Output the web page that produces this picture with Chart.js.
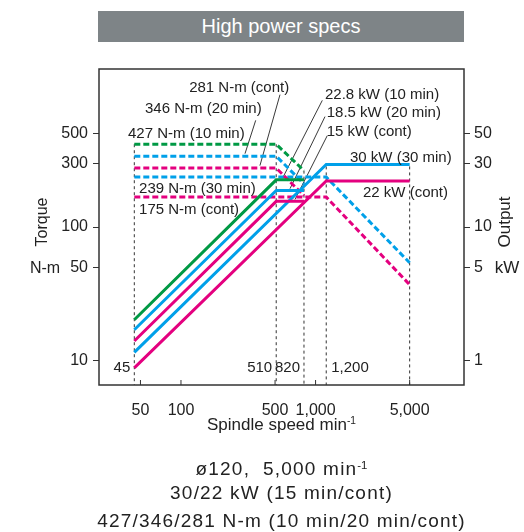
<!DOCTYPE html>
<html>
<head>
<meta charset="utf-8">
<script src="https://cdn.jsdelivr.net/npm/chart.js@4.4.0/dist/chart.umd.min.js"></script>
<style>
  body { margin: 0; background: #fff; font-family: "Liberation Sans", Arial, sans-serif; color: #222; }
  #wrap { position: relative; width: 524px; height: 532px; }
  canvas { position: absolute; left: 0; top: 0; }
  .title { position: absolute; left: 98px; top: 11px; width: 366px; height: 31px; line-height: 31px;
           background: #7e8487; color: #fff; font-size: 20px; text-align: center; }
  .cap { position: absolute; left: 0; width: 563px; text-align: center; font-size: 19px; letter-spacing: 1.2px; line-height: 28px; }
  .xt { position: absolute; left: 0; width: 563px; text-align: center; font-size: 17px; top: 410px; line-height: 22px; }
  sup { font-size: 0.6em; vertical-align: 0.55em; letter-spacing: 0; }
</style>
</head>
<body>
<div id="wrap">
  <canvas id="chart" width="524" height="532"></canvas>
  <div class="title">High power specs</div>
  <div class="xt">Spindle speed min<sup>-1</sup></div>
  <div class="cap" style="top:451px">ø120,&nbsp; 5,000 min<sup>-1</sup></div>
  <div class="cap" style="top:479px">30/22 kW (15 min/cont)</div>
  <div class="cap" style="top:507px">427/346/281 N-m (10 min/20 min/cont)</div>
</div>
<script>
// speeds (min-1)
let speedLow = [45, 510, 820];
let speedHigh = [45, 1200, 5000];

// torque curves, N-m (dashed)
let torque10min = [418, 418, 265];
let torque20min = [340, 340, 211];
let torqueContLow = [277, 277, 172];
let torque30min = [237, 237, 54];
let torqueContHigh = [168, 168, 37];

// output curves, kW (solid)
let power10min = [2.02, 22.6, 22.6];
let power20min = [1.7, 18.8, 18.8];
let powerContLow = [1.4, 15.6, 15.6];
let power30min = [1.15, 29.5, 29.5];
let powerContHigh = [0.88, 22.2, 22.2];

// vertical reference lines
let markSpeeds = [45, 510, 820, 1200, 5000];
let markTops = [418, 418, 265, 285, 285];
let markLabels = ['45', '510', '820', '1,200'];

// ticks
let speedTicks = [50, 100, 500, 1000, 5000];
let torqueTicks = [10, 50, 100, 300, 500];
let outputTicks = [1, 5, 10, 30, 50];

// annotations (anchored in speed / torque units)
let noteTexts = ['281 N-m (cont)', '346 N-m (20 min)', '427 N-m (10 min)', '22.8 kW (10 min)', '18.5 kW (20 min)',
                 '15 kW (cont)', '30 kW (30 min)', '239 N-m (30 min)', '175 N-m (cont)', '22 kW (cont)'];
let noteSpeeds = [115, 54, 40.4, 1175, 1211, 1211, 1802, 48.8, 48.8, 2251];
let noteTorques = [1109, 772, 502, 983, 721, 519, 332, 194, 135, 181];
let leaderFrom = [[544, 983], [359, 631], [1122, 891], [1175, 673], [1222, 485]];
let leaderTo = [[386, 289], [299, 355], [570, 234], [646, 194], [703, 161]];

let GREEN = '#009944', BLUE = '#00a0e9', MAGENTA = '#e4007f', INK = '#222';
let FONT = '"Liberation Sans", Arial, sans-serif';
let torqueMin = 6.55, torqueMax = 1531;

function line(speeds, values, color, dashed, axis) {
    return {
        data: speeds.map((s, i) => ({x: s, y: values[i]})),
        borderColor: color,
        borderWidth: 3,
        borderDash: dashed ? [6, 3] : [],
        yAxisID: axis,
        pointRadius: 0,
        tension: 0,
        fill: false
    };
}

let datasets = [
    line(speedLow, power10min, GREEN, false, 'y2'),
    line(speedLow, power20min, BLUE, false, 'y2'),
    line(speedLow, powerContLow, MAGENTA, false, 'y2'),
    line(speedHigh, power30min, BLUE, false, 'y2'),
    line(speedHigh, powerContHigh, MAGENTA, false, 'y2'),
    line(speedLow, torque10min, GREEN, true, 'y'),
    line(speedLow, torque20min, BLUE, true, 'y'),
    line(speedLow, torqueContLow, MAGENTA, true, 'y'),
    line(speedHigh, torque30min, BLUE, true, 'y'),
    line(speedHigh, torqueContHigh, MAGENTA, true, 'y')
];
leaderFrom.forEach((p, i) => {
    datasets.push({
        data: [{x: p[0], y: p[1]}, {x: leaderTo[i][0], y: leaderTo[i][1]}],
        borderColor: INK, borderWidth: 0.9, pointRadius: 0, yAxisID: 'y'
    });
});
markSpeeds.forEach((s, i) => {
    datasets.push({
        data: [{x: s, y: markTops[i]}, {x: s, y: torqueMin}],
        borderColor: '#333', borderWidth: 1, borderDash: [3, 3], pointRadius: 0, yAxisID: 'y'
    });
});

let overlay = {
    id: 'overlay',
    afterDatasetsDraw(chart) {
        let {ctx, chartArea: a, scales: {x, y}} = chart;
        ctx.save();
        ctx.strokeStyle = '#333';
        ctx.lineWidth = 1.5;
        ctx.strokeRect(a.left, a.top, a.right - a.left, a.bottom - a.top);
        ctx.lineWidth = 1;
        speedTicks.forEach(v => {
            let px = x.getPixelForValue(v);
            ctx.beginPath();
            ctx.moveTo(px, a.bottom);
            ctx.lineTo(px, a.bottom - 5);
            ctx.stroke();
        });

        ctx.fillStyle = INK;
        ctx.textBaseline = 'middle';
        ctx.font = '15px ' + FONT;
        ctx.textAlign = 'left';
        noteTexts.forEach((t, i) => {
            ctx.fillText(t, x.getPixelForValue(noteSpeeds[i]), y.getPixelForValue(noteTorques[i]));
        });

        let ly = y.getPixelForValue(8.86);
        markLabels.forEach((t, i) => {
            let px = x.getPixelForValue(markSpeeds[i]);
            if (i == 3) { ctx.textAlign = 'left'; ctx.fillText(t, px + 5, ly); }
            else { ctx.textAlign = 'right'; ctx.fillText(t, px - 4, ly); }
        });

        // axis titles
        ctx.font = '16px ' + FONT;
        ctx.textAlign = 'center';
        let rowY = y.getPixelForValue(50) + 1;
        ctx.fillText('N-m', a.left - 54, rowY);
        ctx.font = '17px ' + FONT;
        ctx.fillText('kW', a.right + 43, rowY);
        ctx.save();
        ctx.translate(a.left - 56, a.top + 153);
        ctx.rotate(-Math.PI / 2);
        ctx.font = '16px ' + FONT;
        ctx.fillText('Torque', 0, 0);
        ctx.restore();
        ctx.save();
        ctx.translate(a.right + 41, a.top + 153);
        ctx.rotate(-Math.PI / 2);
        ctx.font = '17px ' + FONT;
        ctx.fillText('Output', 0, 0);
        ctx.restore();
        ctx.restore();
    }
};

let tickFont = {size: 16, family: FONT};

new Chart(document.getElementById('chart').getContext('2d'), {
    type: 'line',
    data: {datasets: datasets},
    options: {
        responsive: false,
        animation: false,
        devicePixelRatio: 1,
        layout: {padding: {top: 69}},
        plugins: {legend: {display: false}, tooltip: {enabled: false}},
        scales: {
            x: {
                type: 'logarithmic', min: 24.6, max: 12670,
                afterBuildTicks: s => { s.ticks = speedTicks.map(v => ({value: v})); },
                afterFit: s => { s.height = 147; },
                grid: {display: false},
                border: {display: false},
                ticks: {padding: 8, autoSkip: false, maxRotation: 0, color: INK, font: tickFont,
                        callback: v => v.toLocaleString('en-US')}
            },
            y: {
                type: 'logarithmic', position: 'left', min: torqueMin, max: torqueMax,
                afterBuildTicks: s => { s.ticks = torqueTicks.map(v => ({value: v})); },
                afterFit: s => { s.width = 99; },
                grid: {drawOnChartArea: false, tickLength: 6, color: '#333'},
                border: {display: false},
                ticks: {padding: 5, color: INK, font: tickFont, callback: v => String(v)}
            },
            y2: {
                type: 'logarithmic', position: 'right', min: torqueMin / 10, max: torqueMax / 10,
                afterBuildTicks: s => { s.ticks = outputTicks.map(v => ({value: v})); },
                afterFit: s => { s.width = 60; },
                grid: {drawOnChartArea: false, tickLength: 6, color: '#333'},
                border: {display: false},
                ticks: {padding: 4, color: INK, font: tickFont, callback: v => String(v)}
            }
        }
    },
    plugins: [overlay]
});
</script>
</body>
</html>
